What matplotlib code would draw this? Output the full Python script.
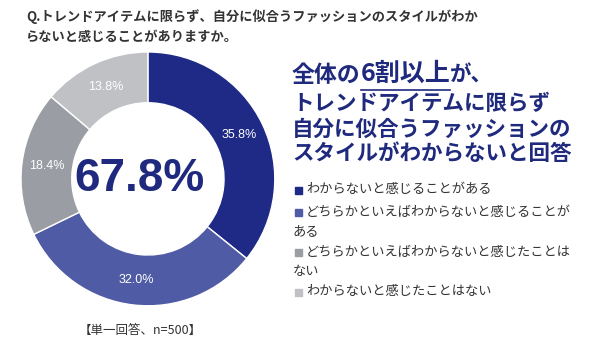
import matplotlib.pyplot as plt
from matplotlib.patches import Rectangle
import numpy as np

plt.rcParams['font.family'] = ['Noto Sans CJK JP', 'DejaVu Sans']

# data
categories = [
    "わからないと感じることがある",
    "どちらかといえばわからないと感じることが\nある",
    "どちらかといえばわからないと感じたことは\nない",
    "わからないと感じたことはない",
]
shares = [35.8, 32.0, 18.4, 13.8]
colors = ["#1e2a86", "#4f5ba5", "#9a9ea4", "#bfc1c5"]
total_label = "67.8%"

NAVY = "#1f2a7e"
TEXT = "#333333"

fig = plt.figure(figsize=(6.0, 3.52), dpi=100)

ax = fig.add_axes([0.035, 0.131, 0.423, 0.7216])
ax.pie(shares, colors=colors, startangle=90, counterclock=False, radius=1.0,
       wedgeprops=dict(width=0.4, edgecolor="white", linewidth=1.0))
ax.set_xlim(-1, 1)
ax.set_ylim(-1, 1)
ax.set_aspect("equal")
ax.axis("off")

# percentage labels on the ring
ang = 90.0
for v in shares:
    mid = ang - v * 3.6 / 2
    ang -= v * 3.6
    ax.text(0.8 * np.cos(np.radians(mid)), 0.8 * np.sin(np.radians(mid)), f"{v:.1f}%",
            ha="center", va="center", color="white", fontsize=9,
            family=["Liberation Sans", "DejaVu Sans"])

ax.text(-0.063, 0.0, total_label, ha="center", va="center", color=NAVY, fontsize=33,
        fontweight="bold", family=["Liberation Sans", "DejaVu Sans"])

# question title
fig.text(0.043, 0.952, "Q.トレンドアイテムに限らず、自分に似合うファッションのスタイルがわか",
         ha="left", va="center", fontsize=9.5, fontweight="bold", color=TEXT)
fig.text(0.043, 0.895, "らないと感じることがありますか。",
         ha="left", va="center", fontsize=9.5, fontweight="bold", color=TEXT)

# headline
x0 = 292 / 600
y1 = 1 - 75 / 352
t1 = fig.text(x0, y1, "全体の", ha="left", va="center", fontsize=16.5,
              fontweight="bold", color=NAVY)
fig.canvas.draw()
r = fig.canvas.get_renderer()
x1 = t1.get_window_extent(r).x1 / fig.bbox.width
t2 = fig.text(x1, y1 + 1 / 352, "6割以上", ha="left", va="center", fontsize=18,
              fontweight="bold", color=NAVY)
x2 = t2.get_window_extent(r).x1 / fig.bbox.width
fig.text(x2, y1, "が、", ha="left", va="center", fontsize=15.5,
         fontweight="bold", color=NAVY)
fig.add_artist(plt.Line2D([x1, x2], [1 - 89.5 / 352] * 2, color=NAVY, lw=1.2))

for i, line in enumerate(["トレンドアイテムに限らず", "自分に似合うファッションの",
                          "スタイルがわからないと回答"]):
    fig.text(x0, 1 - (104 + i * 25) / 352, line, ha="left", va="center", fontsize=15.5,
             fontweight="bold", color=NAVY)

# legend
ys = [190, 212, 252, 292]
for cat, c, y in zip(categories, colors, ys):
    yf = 1 - y / 352
    fig.add_artist(Rectangle((295 / 600, yf - 3.5 / 352), 7 / 600, 7 / 352, color=c,
                             transform=fig.transFigure))
    lines = cat.split("\n")
    fig.text(306 / 600, yf, lines[0], ha="left", va="center", fontsize=9.5, color=TEXT)
    if len(lines) > 1:
        fig.text(293 / 600, yf - 20 / 352, lines[1], ha="left", va="center",
                 fontsize=9.5, color=TEXT)

fig.text(140 / 600, 1 - 330 / 352, "【単一回答、n=500】", ha="center", va="center",
         fontsize=9, color=TEXT)

fig.savefig("out.png", dpi=100)
